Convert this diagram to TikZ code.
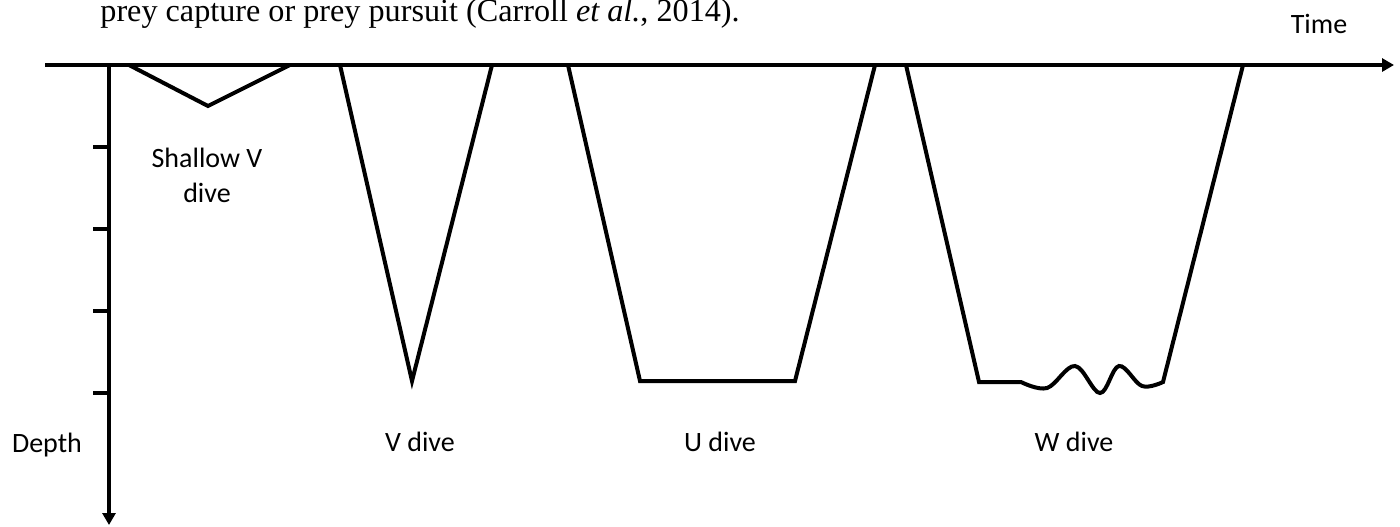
\documentclass[tikz,border=0pt]{standalone}
\usepackage{fontspec}
\setmainfont{Carlito}
\newfontfamily\capfont{Liberation Serif}
\usetikzlibrary{arrows.meta}
\begin{document}
\begin{tikzpicture}[x=0.5pt,y=-0.5pt,
  axis/.style={line width=2pt,-{Triangle[length=6pt,width=6.5pt]}},
  tickmark/.style={line width=2pt},
  diveline/.style={line width=2pt,line join=miter},
  lbl/.style={font=\fontsize{14}{17.5}\selectfont,inner sep=0pt,anchor=base,align=center},
  caption/.style={font=\capfont\fontsize{16.1}{18}\selectfont,inner sep=0pt,anchor=base west}]
\useasboundingbox (0,0) rectangle (1400,526);
% caption (cut off at top)
\node[caption] (cap) at (100,21) {prey capture or prey pursuit (Carroll \textit{et al.}, 2014).};
% axes
\coordinate (tstart) at (45,65);
\coordinate (tend) at (1394,65);
\coordinate (dstart) at (109,63);
\coordinate (dend) at (109,525);
\draw[axis] (tstart) -- (tend);
\draw[axis] (dstart) -- (dend);
% ticks
\foreach \y in {147,229,311,393} \draw[tickmark] (93,\y) -- (109,\y);
% shallow V
\draw[diveline] (129,65) -- (208,106) -- (290,65);
% V dive
\draw[diveline] (340,65) -- (412,381) -- (492,65);
% U dive
\draw[diveline] (568,65) -- (640,381) -- (795,381) -- (875,65);
% W dive
\draw[diveline] (906,65) -- (979,382) -- (1021,382)
  -- plot[smooth,tension=0.6] coordinates {(1021,382) (1047,388) (1075,366) (1100,393) (1119,366) (1142,386) (1163,382)}
  -- (1243,65);
% labels
\node[lbl] (shallow) at (207,202) {Shallow V\\dive};
\node[lbl] (vlab) at (420,451) {V dive};
\node[lbl] (ulab) at (720,451) {U dive};
\node[lbl] (wlab) at (1074,451) {W dive};
\node[lbl] (depth) at (47,452) {Depth};
\node[lbl] (time) at (1319,33) {Time};
\end{tikzpicture}
\end{document}
